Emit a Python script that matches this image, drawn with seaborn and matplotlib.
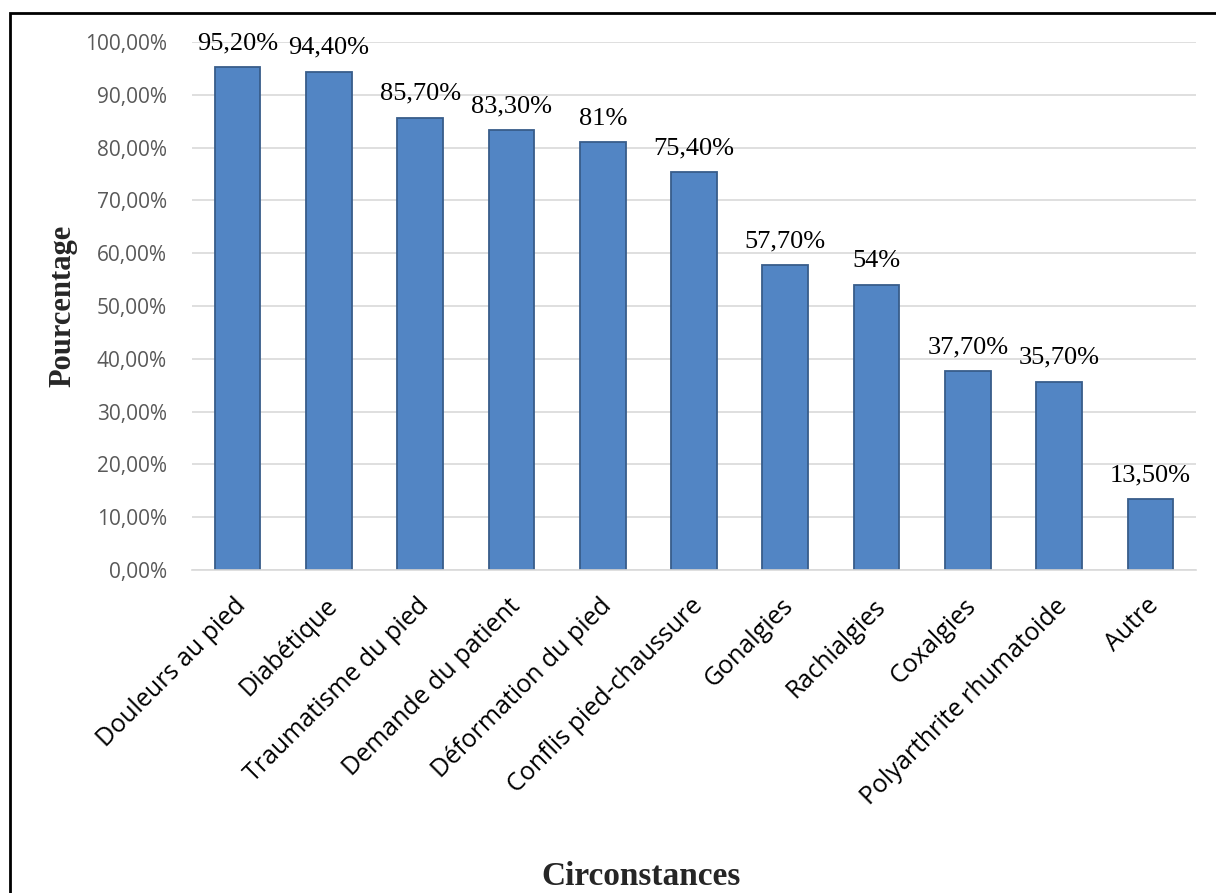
import numpy as np
import pandas as pd
import seaborn as sns
import matplotlib.pyplot as plt
import matplotlib.transforms as mtransforms
from matplotlib.patches import Rectangle
from matplotlib.ticker import FuncFormatter

# categories and values
circonstances = ['Douleurs au pied', 'Diabétique', 'Traumatisme du pied',
                 'Demande du patient', 'Déformation du pied', 'Conflis pied-chaussure',
                 'Gonalgies', 'Rachialgies', 'Coxalgies', 'Polyarthrite rhumatoide', 'Autre']
pourcentages = [95.2, 94.4, 85.7, 83.3, 81.0, 75.4, 57.7, 54.0, 37.7, 35.7, 13.5]
etiquettes = ['95,20%', '94,40%', '85,70%', '83,30%', '81%', '75,40%',
              '57,70%', '54%', '37,70%', '35,70%', '13,50%']

df = pd.DataFrame({'Circonstances': circonstances, 'Pourcentage': pourcentages})

sns.set_style('white')
plt.rcParams['font.family'] = ['Open Sans', 'DejaVu Sans']

fig = plt.figure(figsize=(12.16, 8.93), dpi=100)
ax = fig.add_axes([192/1216, 1 - 570/893, (1196-192)/1216, (570-42)/893])

sns.barplot(data=df, x='Circonstances', y='Pourcentage', color='#5285C4',
            width=0.5, edgecolor='#385D8A', linewidth=1.3, saturation=1, ax=ax)

# value labels above the bars
for i, (v, lab) in enumerate(zip(pourcentages, etiquettes)):
    ax.text(i, v + 2.4, lab, ha='center', va='bottom', fontsize=19,
            family='Liberation Serif', color='black')

ax.set_ylim(0, 100)
ax.set_xlim(-0.5, len(circonstances) - 0.5)
ax.set_yticks(np.arange(0, 101, 10))
ax.yaxis.set_major_formatter(FuncFormatter(lambda y, _: f'{y:.2f}%'.replace('.', ',')))
ax.yaxis.grid(True, color='#D9D9D9', linewidth=1.2)
ax.set_axisbelow(True)
for s in ['top', 'right', 'left']:
    ax.spines[s].set_visible(False)
ax.spines['bottom'].set_color('#D9D9D9')
ax.spines['bottom'].set_linewidth(1.2)

ax.tick_params(axis='y', labelsize=15, labelcolor='#595959', length=0, pad=18)
ax.tick_params(axis='x', labelsize=18, labelcolor='black', length=0, pad=17)
shift = mtransforms.ScaledTranslation(-4/100, 0, fig.dpi_scale_trans)
for lab in ax.get_xticklabels():
    lab.set_rotation(45)
    lab.set_ha('right')
    lab.set_rotation_mode('anchor')
    lab.set_transform(lab.get_transform() + shift)

ax.set_xlabel('')
ax.set_ylabel('')
fig.text(63/1216, 1 - 306/893, 'Pourcentage', rotation=90, ha='center', va='center',
         fontsize=22, fontweight='bold', family='Liberation Serif')
fig.text(641/1216, 1 - 885/893, 'Circonstances', ha='center', va='baseline',
         fontsize=24, fontweight='bold', family='Liberation Serif')

# outer frame
fig.patches.append(Rectangle((10/1216, -0.01), 1.02, 1 - 13/893 + 0.01,
                             transform=fig.transFigure, fill=False,
                             edgecolor='black', linewidth=2, clip_on=False))

fig.savefig('out.png', dpi=100)
